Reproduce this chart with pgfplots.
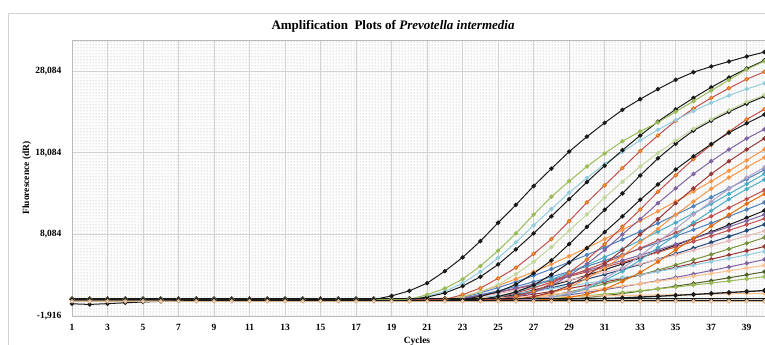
\documentclass[border=0pt]{standalone}
\usepackage{fontspec}
\setmainfont{Liberation Serif}
\usepackage{pgfplots}
\pgfplotsset{compat=1.18}
\usetikzlibrary{patterns}
\definecolor{xgreen}{HTML}{9BBB59}
\definecolor{xlblue}{HTML}{93CDDD}
\definecolor{xred}{HTML}{C0504D}
\definecolor{xorange}{HTML}{F79646}
\definecolor{xlgreen}{HTML}{C3D69B}
\definecolor{xpurple}{HTML}{8064A2}
\definecolor{xdred}{HTML}{953735}
\definecolor{xlpurple}{HTML}{B3A2C7}
\definecolor{xcyan}{HTML}{4BACC6}
\definecolor{xdorange}{HTML}{E46C0A}
\definecolor{xblue}{HTML}{4F81BD}
\definecolor{xnavy}{HTML}{1F497D}
\definecolor{xlred}{HTML}{E6B9B8}
\definecolor{xolive}{HTML}{77933C}
\definecolor{xlorange}{HTML}{FAC090}
\definecolor{xdgreen}{HTML}{4F6228}
\definecolor{xtan}{HTML}{D9B38C}
\definecolor{xbeige}{HTML}{FDE9D9}
\definecolor{xblack}{HTML}{1A1A1A}
\begin{document}
\begin{tikzpicture}[x=1pt,y=1pt]
\path[use as bounding box] (0,0) rectangle (765,345);
\draw[gray!35, line width=0.8pt] (8,0) -- (8,332) -- (765,332);
\begin{axis}[
  at={(72pt,29pt)}, anchor=south west,
  width=693pt, height=276pt, scale only axis,
  xmin=1, xmax=40.03, ymin=-1916, ymax=31900,
  xtick={1,3,...,39},
  ytick={-1916,8084,18084,28084},
  yticklabels={{-1,916},{8,084},{18,084},{28,084}},
  scaled y ticks=false,
  /pgf/number format/assume math mode=true,
  ticklabel style={font=\fontsize{9.5}{11}\selectfont\bfseries},
  xticklabel style={anchor=center, yshift=-11pt},
  yticklabel style={anchor=east, xshift=-7pt},
  major tick length=0pt,
  grid=major,
  major grid style={gray!35, line width=0.8pt},
  axis line style={gray!55, line width=0.6pt},
  axis background/.style={fill=white, postaction={pattern=dots, pattern color=gray!75}},
  title={Amplification\ \ Plots of \textit{Prevotella intermedia}},
  title style={at={(axis description cs:0.4632,1.029)}, anchor=center, font=\fontsize{13}{15}\selectfont\bfseries},
  xlabel={Cycles},
  xlabel style={at={(axis description cs:0.4978,-0.09)}, anchor=center, font=\fontsize{9.5}{11}\selectfont\bfseries},
  ylabel={Fluorescence (dR)},
  ylabel style={at={(axis description cs:-0.065,0.5)}, anchor=center, font=\fontsize{9.5}{11}\selectfont\bfseries},
  clip=true,
  crv/.style={line width=1pt, mark=*, mark size=1.7pt},
]
% ---------- lower (late / slow) curves ----------
\addplot[crv, xblue] coordinates {(1,100)(2,100)(3,100)(4,100)(5,100)(6,100)(7,100)(8,100)(9,100)(10,100)(11,100)(12,100)(13,100)(14,100)(15,100)(16,100)(17,100)(18,100)(19,100)(20,100)(21,100)(22,100)(23,280)(24,690)(25,1169)(26,1698)(27,2268)(28,2880)(29,3516)(30,4176)(31,4872)(32,5592)(33,6324)(34,7080)(35,7860)(36,8652)(37,9468)(38,10296)(39,11136)(40,12000)};
\addplot[crv, xblack] coordinates {(1,100)(2,100)(3,100)(4,100)(5,100)(6,100)(7,100)(8,100)(9,100)(10,100)(11,100)(12,100)(13,100)(14,100)(15,100)(16,100)(17,100)(18,100)(19,100)(20,100)(21,100)(22,100)(23,100)(24,100)(25,297)(26,737)(27,1254)(28,1815)(29,2420)(30,3080)(31,3751)(32,4466)(33,5203)(34,5973)(35,6754)(36,7568)(37,8393)(38,9251)(39,10120)(40,11000)};
\addplot[crv, xred] coordinates {(1,100)(2,100)(3,100)(4,100)(5,100)(6,100)(7,100)(8,100)(9,100)(10,100)(11,100)(12,100)(13,100)(14,100)(15,100)(16,100)(17,100)(18,100)(19,100)(20,100)(21,100)(22,100)(23,233)(24,575)(25,974)(26,1415)(27,1890)(28,2400)(29,2930)(30,3480)(31,4060)(32,4660)(33,5270)(34,5900)(35,6550)(36,7210)(37,7890)(38,8580)(39,9280)(40,10000)};
\addplot[crv, xnavy] coordinates {(1,100)(2,100)(3,100)(4,100)(5,100)(6,100)(7,100)(8,100)(9,100)(10,100)(11,100)(12,100)(13,100)(14,100)(15,100)(16,100)(17,100)(18,100)(19,100)(20,100)(21,100)(22,100)(23,100)(24,100)(25,251)(26,623)(27,1060)(28,1535)(29,2046)(30,2604)(31,3171)(32,3776)(33,4399)(34,5050)(35,5710)(36,6398)(37,7096)(38,7821)(39,8556)(40,9300)};
\addplot[crv, xlred] coordinates {(1,100)(2,100)(3,100)(4,100)(5,100)(6,100)(7,100)(8,100)(9,100)(10,100)(11,100)(12,100)(13,100)(14,100)(15,100)(16,100)(17,100)(18,100)(19,100)(20,100)(21,100)(22,100)(23,198)(24,489)(25,828)(26,1203)(27,1607)(28,2040)(29,2491)(30,2958)(31,3451)(32,3961)(33,4480)(34,5015)(35,5568)(36,6129)(37,6707)(38,7293)(39,7888)(40,8500)};
\addplot[crv, xolive] coordinates {(1,100)(2,100)(3,100)(4,100)(5,100)(6,100)(7,100)(8,100)(9,100)(10,100)(11,100)(12,100)(13,100)(14,100)(15,100)(16,100)(17,100)(18,100)(19,100)(20,100)(21,100)(22,100)(23,100)(24,100)(25,100)(26,100)(27,246)(28,616)(29,1040)(30,1509)(31,2017)(32,2564)(33,3126)(34,3719)(35,4335)(36,4974)(37,5629)(38,6299)(39,6992)(40,7700)};
\addplot[crv, xdred] coordinates {(1,100)(2,100)(3,100)(4,100)(5,100)(6,100)(7,100)(8,100)(9,100)(10,100)(11,100)(12,100)(13,100)(14,100)(15,100)(16,100)(17,100)(18,100)(19,100)(20,100)(21,100)(22,100)(23,100)(24,100)(25,178)(26,442)(27,752)(28,1089)(29,1452)(30,1848)(31,2251)(32,2680)(33,3122)(34,3584)(35,4052)(36,4541)(37,5036)(38,5551)(39,6072)(40,6600)};
\addplot[crv, xlblue] coordinates {(1,100)(2,100)(3,100)(4,100)(5,100)(6,100)(7,100)(8,100)(9,100)(10,100)(11,100)(12,100)(13,100)(14,100)(15,100)(16,100)(17,100)(18,100)(19,100)(20,100)(21,100)(22,100)(23,140)(24,345)(25,584)(26,849)(27,1134)(28,1440)(29,1758)(30,2088)(31,2436)(32,2796)(33,3162)(34,3540)(35,3930)(36,4326)(37,4734)(38,5148)(39,5568)(40,6000)};
\addplot[crv, xpurple] coordinates {(1,100)(2,100)(3,100)(4,100)(5,100)(6,100)(7,100)(8,100)(9,100)(10,100)(11,100)(12,100)(13,100)(14,100)(15,100)(16,100)(17,100)(18,100)(19,100)(20,100)(21,100)(22,100)(23,100)(24,100)(25,100)(26,100)(27,160)(28,400)(29,675)(30,980)(31,1310)(32,1665)(33,2030)(34,2415)(35,2815)(36,3230)(37,3655)(38,4090)(39,4540)(40,5000)};
\addplot[crv, xlorange] coordinates {(1,100)(2,100)(3,100)(4,100)(5,100)(6,100)(7,100)(8,100)(9,100)(10,100)(11,100)(12,100)(13,100)(14,100)(15,100)(16,100)(17,100)(18,100)(19,100)(20,100)(21,100)(22,100)(23,100)(24,100)(25,116)(26,288)(27,490)(28,710)(29,946)(30,1204)(31,1466)(32,1746)(33,2034)(34,2335)(35,2640)(36,2958)(37,3281)(38,3616)(39,3956)(40,4300)};
\addplot[crv, xdgreen] coordinates {(1,100)(2,100)(3,100)(4,100)(5,100)(6,100)(7,100)(8,100)(9,100)(10,100)(11,100)(12,100)(13,100)(14,100)(15,100)(16,100)(17,100)(18,100)(19,100)(20,100)(21,100)(22,100)(23,100)(24,100)(25,100)(26,100)(27,100)(28,100)(29,137)(30,340)(31,578)(32,840)(33,1124)(34,1421)(35,1736)(36,2065)(37,2408)(38,2762)(39,3129)(40,3500)};
\addplot[crv, xgreen] coordinates {(1,100)(2,100)(3,100)(4,100)(5,100)(6,100)(7,100)(8,100)(9,100)(10,100)(11,100)(12,100)(13,100)(14,100)(15,100)(16,100)(17,100)(18,100)(19,100)(20,100)(21,100)(22,100)(23,100)(24,100)(25,100)(26,100)(27,93)(28,232)(29,392)(30,568)(31,760)(32,966)(33,1177)(34,1401)(35,1633)(36,1873)(37,2120)(38,2372)(39,2633)(40,2900)};
\addplot[crv, xlorange] coordinates {(1,150)(2,150)(3,150)(4,150)(5,150)(6,150)(7,150)(8,150)(9,150)(10,150)(11,150)(12,150)(13,150)(14,150)(15,150)(16,150)(17,150)(18,150)(19,150)(20,200)(21,230)(22,265)(23,300)(24,330)(25,365)(26,400)(27,430)(28,465)(29,500)(30,530)(31,565)(32,600)(33,630)(34,665)(35,700)(36,730)(37,765)(38,800)(39,830)(40,860)};
\addplot[crv, xblack, line width=1.3pt] coordinates {(1,200)(2,200)(3,200)(4,200)(5,200)(6,200)(7,200)(8,200)(9,200)(10,200)(11,200)(12,200)(13,200)(14,200)(15,200)(16,200)(17,200)(18,200)(19,200)(20,200)(21,200)(22,200)(23,200)(24,200)(25,200)(26,200)(27,200)(28,200)(29,200)(30,200)(31,230)(32,300)(33,400)(34,500)(35,610)(36,720)(37,840)(38,960)(39,1080)(40,1200)};
% ---------- middle (early, slow) curves ----------
\addplot[crv, xpurple] coordinates {(1,100)(2,100)(3,100)(4,100)(5,100)(6,100)(7,100)(8,100)(9,100)(10,100)(11,100)(12,100)(13,100)(14,100)(15,100)(16,100)(17,100)(18,100)(19,100)(20,100)(21,100)(22,100)(23,245)(24,604)(25,1023)(26,1486)(27,1985)(28,2520)(29,3077)(30,3654)(31,4263)(32,4893)(33,5534)(34,6195)(35,6878)(36,7571)(37,8285)(38,9009)(39,9744)(40,10500)};
\addplot[crv, xred] coordinates {(1,100)(2,100)(3,100)(4,100)(5,100)(6,100)(7,100)(8,100)(9,100)(10,100)(11,100)(12,100)(13,100)(14,100)(15,100)(16,100)(17,100)(18,100)(19,100)(20,100)(21,100)(22,100)(23,100)(24,100)(25,365)(26,905)(27,1539)(28,2228)(29,2970)(30,3780)(31,4604)(32,5481)(33,6386)(34,7331)(35,8289)(36,9288)(37,10301)(38,11354)(39,12420)(40,13500)};
\addplot[crv, xcyan] coordinates {(1,100)(2,100)(3,100)(4,100)(5,100)(6,100)(7,100)(8,100)(9,100)(10,100)(11,100)(12,100)(13,100)(14,100)(15,100)(16,100)(17,100)(18,100)(19,100)(20,100)(21,100)(22,100)(23,100)(24,100)(25,419)(26,1039)(27,1767)(28,2558)(29,3410)(30,4340)(31,5286)(32,6293)(33,7332)(34,8417)(35,9517)(36,10664)(37,11827)(38,13036)(39,14260)(40,15500)};
\addplot[crv, xblue] coordinates {(1,100)(2,100)(3,100)(4,100)(5,100)(6,100)(7,100)(8,100)(9,100)(10,100)(11,100)(12,100)(13,100)(14,100)(15,100)(16,100)(17,100)(18,100)(19,100)(20,100)(21,100)(22,100)(23,373)(24,920)(25,1558)(26,2264)(27,3024)(28,3840)(29,4688)(30,5568)(31,6496)(32,7456)(33,8432)(34,9440)(35,10480)(36,11536)(37,12624)(38,13728)(39,14848)(40,16000)};
\addplot[crv, xorange] coordinates {(1,100)(2,100)(3,100)(4,100)(5,100)(6,100)(7,100)(8,100)(9,100)(10,100)(11,100)(12,100)(13,100)(14,100)(15,100)(16,100)(17,100)(18,100)(19,100)(20,100)(21,100)(22,100)(23,431)(24,1064)(25,1802)(26,2618)(27,3497)(28,4440)(29,5421)(30,6438)(31,7511)(32,8621)(33,9750)(34,10915)(35,12118)(36,13339)(37,14597)(38,15873)(39,17168)(40,18500)};
% ---------- upper (early) curves ----------
\addplot[crv, xdorange] coordinates {(1,100)(2,100)(3,100)(4,100)(5,100)(6,100)(7,100)(8,100)(9,100)(10,100)(11,100)(12,100)(13,100)(14,100)(15,100)(16,100)(17,100)(18,100)(19,100)(20,100)(21,100)(22,100)(23,100)(24,100)(25,100)(26,100)(27,100)(28,100)(29,358)(30,757)(31,1372)(32,2327)(33,3419)(34,4719)(35,6182)(36,7605)(37,9107)(38,10491)(39,11843)(40,13039)};
\addplot[crv, xcyan] coordinates {(1,100)(2,100)(3,100)(4,100)(5,100)(6,100)(7,100)(8,100)(9,100)(10,100)(11,100)(12,100)(13,100)(14,100)(15,100)(16,100)(17,100)(18,100)(19,100)(20,100)(21,100)(22,100)(23,100)(24,100)(25,100)(26,100)(27,100)(28,374)(29,792)(30,1435)(31,2434)(32,3577)(33,4937)(34,6467)(35,7956)(36,9527)(37,10975)(38,12390)(39,13641)(40,14790)};
\addplot[crv, xlpurple] coordinates {(1,100)(2,100)(3,100)(4,100)(5,100)(6,100)(7,100)(8,100)(9,100)(10,100)(11,100)(12,100)(13,100)(14,100)(15,100)(16,100)(17,100)(18,100)(19,100)(20,100)(21,100)(22,100)(23,100)(24,100)(25,100)(26,100)(27,100)(28,413)(29,874)(30,1583)(31,2685)(32,3945)(33,5445)(34,7133)(35,8775)(36,10508)(37,12105)(38,13665)(39,15045)(40,16313)};
\addplot[crv, xorange] coordinates {(1,100)(2,100)(3,100)(4,100)(5,100)(6,100)(7,100)(8,100)(9,100)(10,100)(11,100)(12,100)(13,100)(14,100)(15,100)(16,100)(17,100)(18,100)(19,100)(20,100)(21,100)(22,100)(23,100)(24,100)(25,100)(26,100)(27,413)(28,874)(29,1583)(30,2685)(31,3945)(32,5445)(33,7133)(34,8775)(35,10508)(36,12105)(37,13665)(38,15045)(39,16313)(40,17505)};
\addplot[crv, xdred] coordinates {(1,100)(2,100)(3,100)(4,100)(5,100)(6,100)(7,100)(8,100)(9,100)(10,100)(11,100)(12,100)(13,100)(14,100)(15,100)(16,100)(17,100)(18,100)(19,100)(20,100)(21,100)(22,100)(23,100)(24,100)(25,100)(26,100)(27,468)(28,990)(29,1794)(30,3043)(31,4471)(32,6171)(33,8084)(34,9945)(35,11909)(36,13719)(37,15487)(38,17051)(39,18488)(40,19839)};
\addplot[crv, xpurple] coordinates {(1,100)(2,100)(3,100)(4,100)(5,100)(6,100)(7,100)(8,100)(9,100)(10,100)(11,100)(12,100)(13,100)(14,100)(15,100)(16,100)(17,100)(18,100)(19,100)(20,100)(21,100)(22,100)(23,100)(24,100)(25,100)(26,468)(27,990)(28,1794)(29,3043)(30,4471)(31,6171)(32,8084)(33,9945)(34,11909)(35,13719)(36,15487)(37,17051)(38,18488)(39,19839)(40,20953)};
\addplot[crv, xred, mark options={fill=xlorange, draw=xdorange}] coordinates {(1,100)(2,100)(3,100)(4,100)(5,100)(6,100)(7,100)(8,100)(9,100)(10,100)(11,100)(12,100)(13,100)(14,100)(15,100)(16,100)(17,100)(18,100)(19,100)(20,100)(21,100)(22,100)(23,100)(24,100)(25,100)(26,523)(27,1107)(28,2005)(29,3401)(30,4997)(31,6897)(32,9035)(33,11115)(34,13310)(35,15333)(36,17309)(37,19057)(38,20663)(39,22173)(40,23418)};
\addplot[crv, xblack] coordinates {(1,100)(2,100)(3,100)(4,100)(5,100)(6,100)(7,100)(8,100)(9,100)(10,100)(11,100)(12,100)(13,100)(14,100)(15,100)(16,100)(17,100)(18,100)(19,100)(20,100)(21,100)(22,100)(23,100)(24,100)(25,484)(26,1025)(27,1857)(28,3150)(29,4629)(30,6389)(31,8369)(32,10296)(33,12329)(34,14203)(35,16034)(36,17653)(37,19140)(38,20539)(39,21692)(40,22774)};
\addplot[crv, xblack] coordinates {(1,100)(2,100)(3,100)(4,100)(5,100)(6,100)(7,100)(8,100)(9,100)(10,100)(11,100)(12,100)(13,100)(14,100)(15,100)(16,100)(17,100)(18,100)(19,100)(20,100)(21,100)(22,100)(23,100)(24,500)(25,1050)(26,1950)(27,3300)(28,4900)(29,6900)(30,9000)(31,11100)(32,13100)(33,15300)(34,17400)(35,19200)(36,20800)(37,22000)(38,23100)(39,24100)(40,25000)};
\addplot[crv, xlgreen] coordinates {(1,100)(2,100)(3,100)(4,100)(5,100)(6,100)(7,100)(8,100)(9,100)(10,100)(11,100)(12,100)(13,100)(14,100)(15,100)(16,100)(17,100)(18,100)(19,100)(20,100)(21,100)(22,100)(23,500)(24,1050)(25,1900)(26,3220)(27,4730)(28,6530)(29,8560)(30,10530)(31,12610)(32,14530)(33,16400)(34,18050)(35,19580)(36,21010)(37,22190)(38,23290)(39,24320)(40,25160)};
\addplot[crv, xred, mark options={fill=xlorange, draw=xdorange}] coordinates {(1,100)(2,100)(3,100)(4,100)(5,100)(6,100)(7,100)(8,100)(9,100)(10,100)(11,100)(12,100)(13,100)(14,100)(15,100)(16,100)(17,100)(18,100)(19,100)(20,100)(21,100)(22,100)(23,700)(24,1500)(25,2700)(26,4000)(27,5700)(28,7500)(29,9700)(30,12000)(31,14100)(32,16200)(33,18300)(34,20200)(35,22000)(36,23500)(37,24800)(38,26000)(39,27100)(40,28000)};
\addplot[crv, xlblue] coordinates {(1,100)(2,100)(3,100)(4,100)(5,100)(6,100)(7,100)(8,100)(9,100)(10,100)(11,100)(12,100)(13,100)(14,100)(15,100)(16,100)(17,100)(18,100)(19,100)(20,100)(21,500)(22,1100)(23,2100)(24,3500)(25,5200)(26,7100)(27,9200)(28,11200)(29,13200)(30,15000)(31,16700)(32,18200)(33,19600)(34,20900)(35,22100)(36,23200)(37,24200)(38,25100)(39,25900)(40,26600)};
\addplot[crv, xblack] coordinates {(1,100)(2,100)(3,100)(4,100)(5,100)(6,100)(7,100)(8,100)(9,100)(10,100)(11,100)(12,100)(13,100)(14,100)(15,100)(16,100)(17,100)(18,100)(19,100)(20,100)(21,400)(22,900)(23,1740)(24,2890)(25,4400)(26,6240)(27,8200)(28,10300)(29,12400)(30,14500)(31,16500)(32,18400)(33,20200)(34,21900)(35,23400)(36,24800)(37,26100)(38,27300)(39,28400)(40,29400)};
\addplot[crv, xgreen] coordinates {(1,100)(2,100)(3,100)(4,100)(5,100)(6,100)(7,100)(8,100)(9,100)(10,100)(11,100)(12,100)(13,100)(14,100)(15,100)(16,100)(17,100)(18,100)(19,100)(20,100)(21,700)(22,1450)(23,2600)(24,4200)(25,6100)(26,8200)(27,10500)(28,12700)(29,14600)(30,16400)(31,18000)(32,19500)(33,20700)(34,21800)(35,23100)(36,24400)(37,25700)(38,27000)(39,28300)(40,29300)};
\addplot[crv, xblack] coordinates {(1,100)(2,100)(3,100)(4,100)(5,100)(6,100)(7,100)(8,100)(9,100)(10,100)(11,100)(12,100)(13,100)(14,100)(15,100)(16,100)(17,100)(18,100)(19,550)(20,1165)(21,2110)(22,3580)(23,5260)(24,7260)(25,9510)(26,11700)(27,14010)(28,16140)(29,18220)(30,20060)(31,21750)(32,23340)(33,24650)(34,25880)(35,27020)(36,27960)(37,28650)(38,29260)(39,29880)(40,30420)};
% ---------- baseline curves ----------
\addplot[xblack, line width=1.6pt] coordinates {(1,220)(2,220)(3,220)(4,220)(5,220)(6,220)(7,220)(8,220)(9,220)(10,220)(11,220)(12,220)(13,220)(14,220)(15,220)(16,220)(17,220)(18,220)(19,220)(20,220)(21,220)(22,220)(23,220)(24,220)(25,220)(26,220)(27,220)(28,220)(29,220)(30,220)(31,220)(32,220)(33,220)(34,220)(35,220)(36,220)(37,220)(38,220)(39,220)(40,220)};
\addplot[crv, xblack] coordinates {(1,-420)(2,-500)(3,-400)(4,-300)(5,-200)(6,-120)(7,-60)(8,-20)(9,0)(10,0)(11,0)(12,0)(13,0)(14,0)(15,0)(16,0)(17,0)(18,0)(19,0)(20,0)(21,0)(22,0)(23,0)(24,0)(25,0)(26,0)(27,0)(28,0)(29,0)(30,0)(31,0)(32,0)(33,0)(34,0)(35,0)(36,0)(37,0)(38,0)(39,0)(40,0)};
\addplot[crv, xtan, mark options={fill=xbeige, draw=xtan}] coordinates {(1,-120)(2,-120)(3,-120)(4,-120)(5,-120)(6,-120)(7,-120)(8,-120)(9,-120)(10,-120)(11,-120)(12,-120)(13,-120)(14,-120)(15,-120)(16,-120)(17,-120)(18,-120)(19,-120)(20,-120)(21,-120)(22,-120)(23,-120)(24,-120)(25,-120)(26,-120)(27,-120)(28,-120)(29,-120)(30,-120)(31,-120)(32,-120)(33,-120)(34,-120)(35,-120)(36,-120)(37,-120)(38,-120)(39,-120)(40,-120)};
\end{axis}
\end{tikzpicture}
\end{document}
